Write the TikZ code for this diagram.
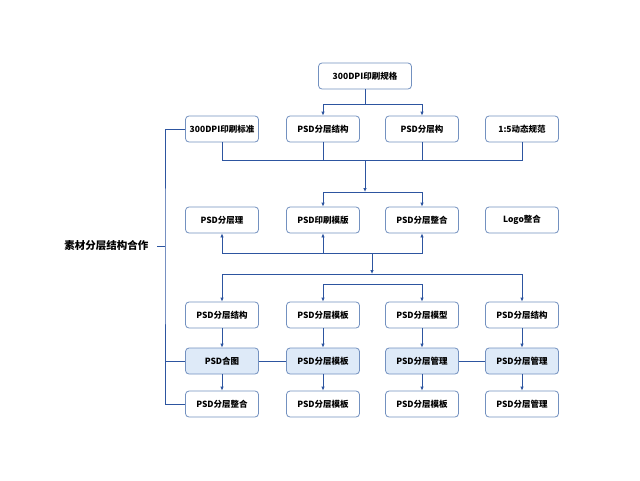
\documentclass[tikz,border=0pt]{standalone}
\usepackage{fontspec}
\setmainfont{Noto Sans CJK SC}
\usepackage{xcolor}
\usetikzlibrary{arrows.meta, positioning, calc}
\definecolor{boxline}{RGB}{115,145,192}
\definecolor{linkblue}{RGB}{45,85,160}
\definecolor{softblue}{RGB}{222,234,248}
\tikzset{
  flowbox/.style={
    draw=boxline, rounded corners=3.5pt, line width=0.8pt, align=center,
    font=\bfseries\fontsize{8.5}{10}\selectfont, fill=white,
    minimum width=73pt, minimum height=26pt, inner sep=2pt
  },
  flowboxhi/.style={flowbox, fill=softblue},
  flowlink/.style={draw=linkblue, line width=0.8pt},
  flowarrow/.style={flowlink, -{Latex[length=4pt,width=3.5pt]}},
  sidelabel/.style={font=\bfseries\fontsize{10.5}{12}\selectfont, text=black}
}
\begin{document}
\begin{tikzpicture}[x=1pt, y=-1pt]
  \useasboundingbox[fill=white] (0,0) rectangle (640,480);

  % === Top ===
  \node[flowbox, minimum width=93pt] (top) at (365,76) {300DPI印刷规格};

  % === Row 1 ===
  \node[flowbox] (r1a) at (222,129) {300DPI印刷标准};
  \node[flowbox] (r1b) at (323,129) {PSD分层结构};
  \node[flowbox] (r1c) at (422,129) {PSD分层构};
  \node[flowbox] (r1d) at (522,129) {1:5动态规范};

  % === Row 2 ===
  \node[flowbox] (r2a) at (222,220) {PSD分层理};
  \node[flowbox] (r2b) at (323,220) {PSD印刷模版};
  \node[flowbox] (r2c) at (422,220) {PSD分层整合};
  \node[flowbox] (r2d) at (522,220) {Logo整合};

  % === Row 3 ===
  \node[flowbox] (r3a) at (222,315) {PSD分层结构};
  \node[flowbox] (r3b) at (323,315) {PSD分层模板};
  \node[flowbox] (r3c) at (422,315) {PSD分层模型};
  \node[flowbox] (r3d) at (522,315) {PSD分层结构};

  % === Row 4 ===
  \node[flowboxhi] (r4a) at (222,361) {PSD合图};
  \node[flowboxhi] (r4b) at (323,361) {PSD分层模板};
  \node[flowboxhi] (r4c) at (422,361) {PSD分层管理};
  \node[flowboxhi] (r4d) at (522,361) {PSD分层管理};

  % === Row 5 ===
  \node[flowbox] (r5a) at (222,404) {PSD分层整合};
  \node[flowbox] (r5b) at (323,404) {PSD分层模板};
  \node[flowbox] (r5c) at (422,404) {PSD分层模板};
  \node[flowbox] (r5d) at (522,404) {PSD分层管理};

  % === Side label ===
  \node[sidelabel, anchor=east] (side) at (152,246) {素材分层结构合作};

  % === Bus points ===
  \coordinate (busA) at (365,104);
  \coordinate (busB) at (365,160);
  \coordinate (busC) at (365,192);
  \coordinate (busD) at (372,253);
  \coordinate (busE) at (372,274);
  \coordinate (busF) at (372,284);
  \coordinate (spine) at (165,246);

  % === Top to row 1 ===
  \draw[flowlink] (top.south) -- (busA);
  \draw[flowarrow] (busA) -| (r1b.north);
  \draw[flowarrow] (busA) -| (r1c.north);

  % === Row 1 to row 2 ===
  \draw[flowlink] (r1a.south) |- (busB);
  \draw[flowlink] (r1d.south) |- (busB);
  \draw[flowlink] (r1b.south) -- (r1b.south|-busB);
  \draw[flowlink] (r1c.south) -- (r1c.south|-busB);
  \draw[flowarrow] (busB) -- (busC);
  \draw[flowarrow] (busC) -| (r2b.north);
  \draw[flowarrow] (busC) -| (r2c.north);

  % === Row 2 to row 3 ===
  \draw[flowarrow] (busD) -| (r2a.south);
  \draw[flowarrow] (busD) -| (r2c.south);
  \draw[flowarrow] (r2b.south|-busD) -- (r2b.south);
  \draw[flowarrow] (busD) -- (busE);
  \draw[flowarrow] (busE) -| (r3a.north);
  \draw[flowarrow] (busE) -| (r3d.north);
  \draw[flowarrow] (busF) -| (r3b.north);
  \draw[flowarrow] (busF) -| (r3c.north);

  % === Rows 3-5 ===
  \foreach \c in {a,b,c,d} {
    \draw[flowarrow] (r3\c.south) -- (r4\c.north);
    \draw[flowarrow] (r4\c.south) -- (r5\c.north);
  }
  \draw[flowlink] (r4a.east) -- (r4b.west);
  \draw[flowlink] (r4c.east) -- (r4d.west);

  % === Left spine ===
  \draw[flowlink] (r1a.west) -| (spine) |- (r5a.west);
  \draw[flowlink] (spine|-r4a) -- (r4a.west);
  \draw[flowlink] (spine) -- ([xshift=5pt]side.east);

\end{tikzpicture}
\end{document}
